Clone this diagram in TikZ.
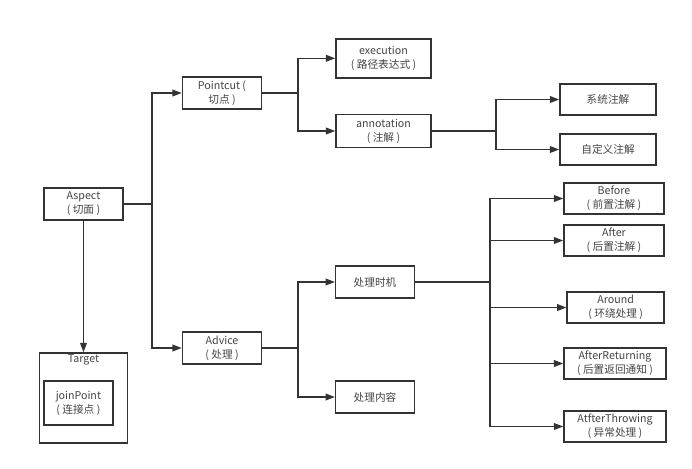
\documentclass[tikz,border=0pt]{standalone}
\usepackage{fontspec}
\setmainfont{Noto Sans CJK SC}
\usepackage{xcolor}
\usetikzlibrary{arrows.meta, positioning}

\definecolor{linegray}{HTML}{333333}
\definecolor{textgray}{HTML}{444444}

\begin{document}
\begin{tikzpicture}[
  x=0.75pt, y=-0.75pt,
  box/.style={draw=linegray, line width=1.1pt, fill=white, align=center,
              inner sep=0pt, text=textgray, font=\fontsize{8}{10.5}\selectfont},
  arr/.style={-{Triangle[length=7pt, width=5pt]}, line width=1.1pt, draw=linegray},
  link/.style={line width=1.1pt, draw=linegray}
]
  \useasboundingbox (0,0) rectangle (692,468);

  % left side
  \node[box, minimum width=59.25pt, minimum height=24pt] (aspect) at (83.5,204) {Aspect\\( 切面 )};
  \node[box, minimum width=66pt, minimum height=67.5pt] (target) at (83.5,398) {};
  \node[box, draw=none, fill=none, below=1pt of target.north] (tlabel) {Target};
  \node[box, minimum width=51.75pt, minimum height=33pt] (join) at (78.4,403) {joinPoint\\( 连接点 )};

  % pointcut branch
  \node[box, minimum width=59.25pt, minimum height=24pt] (pointcut) at (222,93) {Pointcut (\\切点 )};
  \node[box, minimum width=71.25pt, minimum height=29.25pt] (exec) at (383.5,58.3) {execution\\( 路径表达式 )};
  \node[box, minimum width=71.25pt, minimum height=24.75pt] (annot) at (383.5,131) {annotation\\( 注解 )};
  \node[box, minimum width=72pt, minimum height=23.25pt] (sysann) at (608,99.5) {系统注解};
  \node[box, minimum width=72pt, minimum height=23.25pt] (custann) at (608,149.5) {自定义注解};

  % advice branch
  \node[box, minimum width=59.25pt, minimum height=24pt] (advice) at (222,348) {Advice\\( 处理 )};
  \node[box, minimum width=59pt, minimum height=24pt] (timing) at (375,282) {处理时机};
  \node[box, minimum width=59pt, minimum height=24pt] (content) at (375,397) {处理内容};
  \node[box, minimum width=75pt, minimum height=23.25pt] (before) at (614,198.5) {Before\\( 前置注解 )};
  \node[box, minimum width=75pt, minimum height=23.25pt] (after) at (614,240.5) {After\\( 后置注解 )};
  \node[box, minimum width=72.75pt, minimum height=23.25pt] (around) at (615.7,307.5) {Around\\( 环绕处理 )};
  \node[box, minimum width=76.5pt, minimum height=23.25pt] (afterret) at (615,363.5) {AfterReturning\\( 后置返回通知 )};
  \node[box, minimum width=76.5pt, minimum height=23.25pt] (afterthrow) at (615,426.5) {AtfterThrowing\\( 异常处理 )};

  % branch points
  \coordinate (bAspect) at (152,204);
  \coordinate (bPoint) at (298,93);
  \coordinate (bAnnot) at (496,131);
  \coordinate (bAdvice) at (298,348);
  \coordinate (bTiming) at (490,282);

  \draw[arr] (aspect.south) -- (target.north);
  \draw[link] (aspect.east) -- (bAspect);
  \draw[arr] (bAspect) |- (pointcut.west);
  \draw[arr] (bAspect) |- (advice.west);

  \draw[link] (pointcut.east) -- (bPoint);
  \draw[arr] (bPoint) |- (exec.west);
  \draw[arr] (bPoint) |- (annot.west);

  \draw[link] (annot.east) -- (bAnnot);
  \draw[arr] (bAnnot) |- (sysann.west);
  \draw[arr] (bAnnot) |- (custann.west);

  \draw[link] (advice.east) -- (bAdvice);
  \draw[arr] (bAdvice) |- (timing.west);
  \draw[arr] (bAdvice) |- (content.west);

  \draw[link] (timing.east) -- (bTiming);
  \draw[arr] (bTiming) |- (before.west);
  \draw[arr] (bTiming) |- (after.west);
  \draw[arr] (bTiming) |- (around.west);
  \draw[arr] (bTiming) |- (afterret.west);
  \draw[arr] (bTiming) |- (afterthrow.west);
\end{tikzpicture}
\end{document}
